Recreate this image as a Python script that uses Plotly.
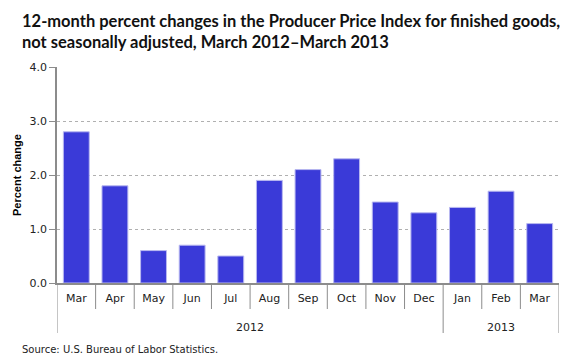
import plotly.graph_objects as go

months = ["Mar", "Apr", "May", "Jun", "Jul", "Aug", "Sep", "Oct", "Nov", "Dec", "Jan", "Feb", "Mar"]
years = ["2012"] * 10 + ["2013"] * 3
values = [2.8, 1.8, 0.6, 0.7, 0.5, 1.9, 2.1, 2.3, 1.5, 1.3, 1.4, 1.7, 1.1]
y_ticks = [0.0, 1.0, 2.0, 3.0, 4.0]

title_text = ("12-month percent changes in the Producer Price Index for finished goods,<br>"
              "not seasonally adjusted, March 2012\u2013March 2013")
source_text = "Source: U.S. Bureau of Labor Statistics."

# page body has an 8px default margin, so the figure is 8px smaller on each axis
W, H = 572, 355
L, R, T, B = 49, 21, 59, 80
PW, PH = W - L - R, H - T - B

idx = list(range(len(months)))
AX = "#8c8c8c"
TXT = "#222"

fig = go.Figure(go.Bar(
    x=idx, y=values,
    marker=dict(color="#3a3ad8", line=dict(color="#b8b8f0", width=1)),
    width=0.67,
))

shapes = []
for i in range(1, len(months)):
    full = years[i] != years[i - 1]
    shapes.append(dict(type="line", xref="x", yref="paper", x0=i - 0.5, x1=i - 0.5,
                       y0=0, y1=-(50 / PH) if full else -(26 / PH),
                       line=dict(color=AX, width=1)))
for edge in (-0.5, len(months) - 0.5):
    shapes.append(dict(type="line", xref="x", yref="paper", x0=edge, x1=edge,
                       y0=0, y1=-(50 / PH), line=dict(color=AX, width=1)))

annotations = []
for yr in dict.fromkeys(years):
    pos = [i for i, y in enumerate(years) if y == yr]
    annotations.append(dict(x=sum(pos) / len(pos), xref="x", y=0, yref="paper", yshift=-44,
                            text=yr, showarrow=False, yanchor="middle",
                            font=dict(family="DejaVu Sans", size=11, color=TXT)))
annotations.append(dict(x=(17 - 57) / PW, xref="paper", xanchor="center", y=0.5, yref="paper",
                        text="<b>Percent change</b>", textangle=-90, showarrow=False,
                        font=dict(family="Liberation Sans", size=11, color="#000")))
annotations.append(dict(x=(20 - 57) / PW, xref="paper", xanchor="left", y=0, yref="paper",
                        yshift=-66, yanchor="middle", text=source_text, showarrow=False,
                        font=dict(family="DejaVu Sans", size=10, color=TXT)))
annotations.append(dict(x=(20 - 57) / PW, xref="paper", xanchor="left", y=1, yref="paper",
                        yshift=58, yanchor="top", align="left", text="<b>" + title_text + "</b>",
                        showarrow=False, font=dict(family="Lato", size=16.5, color="#111")))

fig.update_layout(
    width=W, height=H,
    margin=dict(l=L, r=R, t=T, b=B),
    paper_bgcolor="white", plot_bgcolor="white",
    showlegend=False,
    xaxis=dict(range=[-0.5, len(months) - 0.5], tickvals=idx, ticktext=months,
               showline=True, linecolor=AX, linewidth=1.5, ticks="outside", ticklen=4,
               tickcolor="rgba(0,0,0,0)", showgrid=False, zeroline=False,
               tickfont=dict(family="DejaVu Sans", size=11, color=TXT)),
    yaxis=dict(range=[0, 4], tickvals=y_ticks, tickformat=".1f", showline=True,
               linecolor=AX, linewidth=1.5, ticks="outside", ticklen=6, tickcolor=AX,
               showgrid=True, gridcolor="#b0b0b0", griddash="dot", gridwidth=1, zeroline=False,
               tickfont=dict(family="DejaVu Sans", size=11, color=TXT)),
    shapes=shapes,
    annotations=annotations,
)

fig.write_html("out.html")
